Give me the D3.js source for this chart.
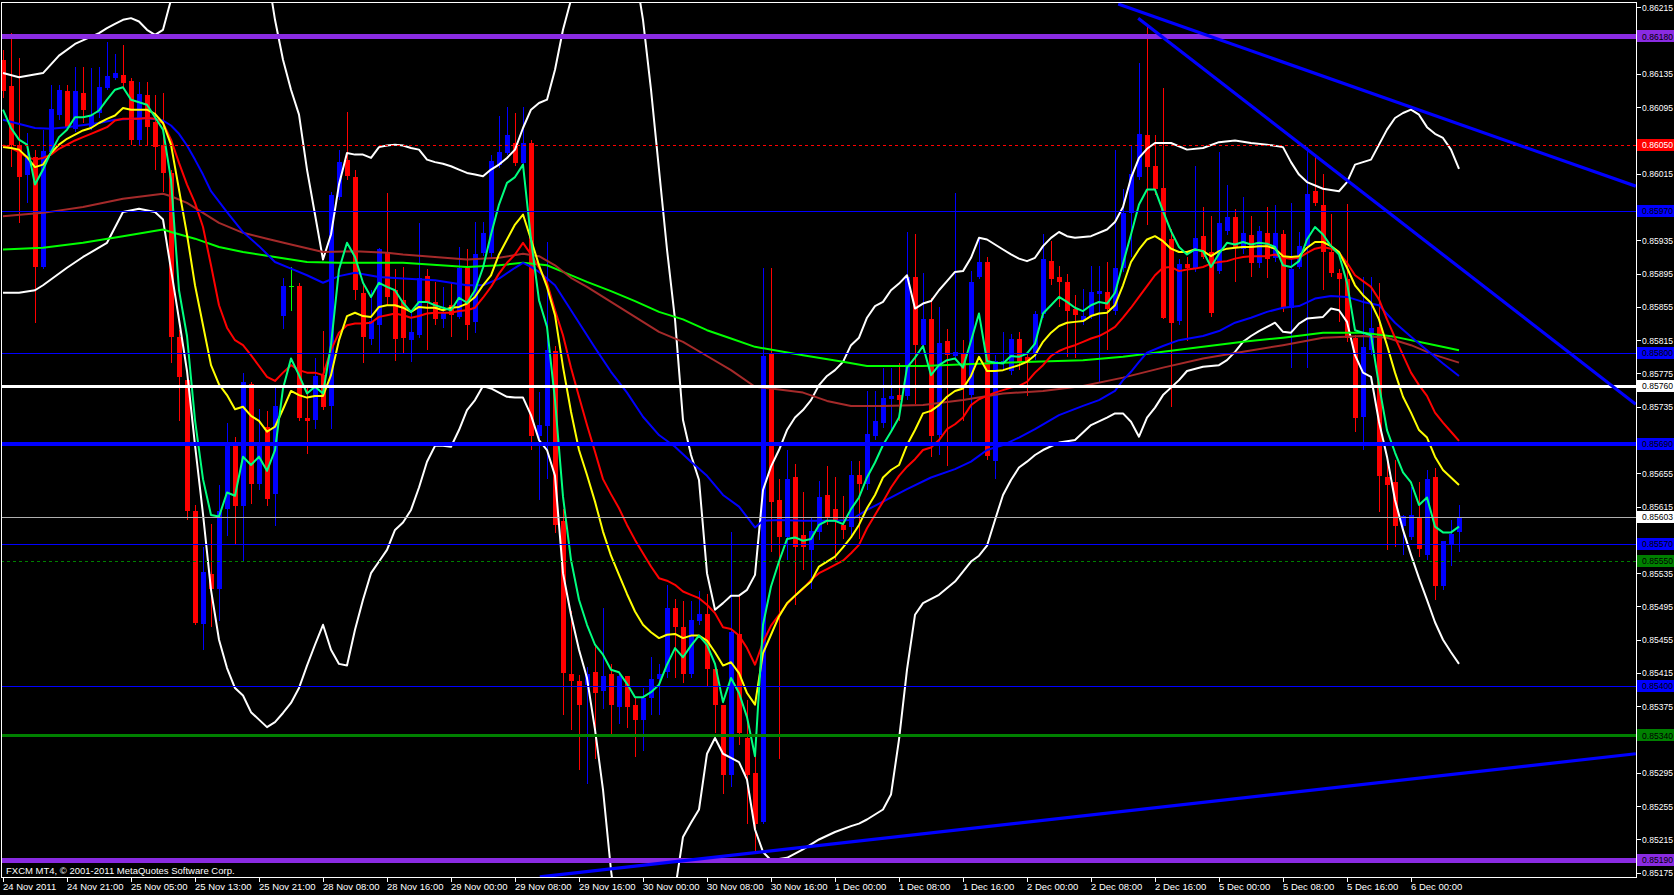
<!DOCTYPE html>
<html><head><meta charset="utf-8">
<script src="https://cdn.jsdelivr.net/npm/d3@7"></script>
<style>html,body{margin:0;padding:0;background:#000;overflow:hidden}svg{display:block}</style>
</head><body>
<svg id="chart" width="1674" height="895"></svg>
<script>
// ---------------- DATA ----------------
const timeLabels = ["24 Nov 2011","24 Nov 21:00","25 Nov 05:00","25 Nov 13:00","25 Nov 21:00","28 Nov 08:00","28 Nov 16:00","29 Nov 00:00","29 Nov 08:00","29 Nov 16:00","30 Nov 00:00","30 Nov 08:00","30 Nov 16:00","1 Dec 00:00","1 Dec 08:00","1 Dec 16:00","2 Dec 00:00","2 Dec 08:00","2 Dec 16:00","5 Dec 00:00","5 Dec 08:00","5 Dec 16:00","6 Dec 00:00"];
const timeLabelBars = [0,8,16,24,32,40,48,56,64,72,80,88,96,104,112,120,128,136,144,152,160,168,176];
const priceTicks = [0.85175,0.85215,0.85255,0.85295,0.85335,0.85375,0.85415,0.85455,0.85495,0.85535,0.85575,0.85615,0.85655,0.85695,0.85735,0.85775,0.85815,0.85855,0.85895,0.85935,0.85975,0.86015,0.86055,0.86095,0.86135,0.86175,0.86215];

const open = [0.86152,0.86120,0.86050,0.86014,0.86035,0.85903,0.86041,0.86086,0.86115,0.86069,0.86112,0.86071,0.86088,0.86118,0.86130,0.86134,0.86127,0.86055,0.86110,0.86077,0.86050,0.86016,0.85819,0.85767,0.85610,0.85474,0.85534,0.85516,0.85612,0.85688,0.85616,0.85762,0.85642,0.85711,0.85630,0.85844,0.85880,0.85880,0.85722,0.85719,0.85773,0.85736,0.85987,0.86032,0.86011,0.85872,0.85817,0.85833,0.85921,0.85875,0.85863,0.85815,0.85821,0.85892,0.85861,0.85840,0.85857,0.85843,0.85902,0.85837,0.85920,0.85920,0.86026,0.86040,0.86052,0.86028,0.86052,0.85700,0.85712,0.85802,0.85598,0.85414,0.85406,0.85401,0.85416,0.85394,0.85414,0.85374,0.85412,0.85377,0.85358,0.85385,0.85408,0.85416,0.85493,0.85470,0.85414,0.85478,0.85486,0.85420,0.85377,0.85293,0.85462,0.85337,0.85295,0.85236,0.85800,0.85623,0.85578,0.85650,0.85581,0.85563,0.85585,0.85629,0.85612,0.85593,0.85591,0.85653,0.85642,0.85700,0.85716,0.85744,0.85749,0.85748,0.85891,0.85809,0.85841,0.85701,0.85814,0.85796,0.85799,0.85749,0.85891,0.85909,0.85670,0.85787,0.85778,0.85817,0.85795,0.85799,0.85847,0.85910,0.85891,0.85885,0.85853,0.85838,0.85844,0.85871,0.85873,0.85850,0.85902,0.85968,0.86011,0.86061,0.86024,0.85998,0.85937,0.85838,0.85907,0.85902,0.85940,0.85921,0.85898,0.85946,0.85963,0.85924,0.85942,0.85908,0.85944,0.85914,0.85943,0.85854,0.85903,0.85928,0.85994,0.85978,0.85921,0.85896,0.85888,0.85818,0.85723,0.85803,0.85831,0.85650,0.85644,0.85592,0.85579,0.85603,0.85557,0.85650,0.85520,0.85570,0.85584];
const high = [0.86164,0.86184,0.86154,0.86064,0.86044,0.86068,0.86122,0.86122,0.86122,0.86143,0.86143,0.86142,0.86143,0.86173,0.86159,0.86170,0.86130,0.86125,0.86125,0.86110,0.86112,0.86020,0.85827,0.85777,0.85617,0.85566,0.85594,0.85641,0.85716,0.85699,0.85776,0.85765,0.85732,0.85730,0.85759,0.85890,0.85903,0.85884,0.85760,0.85793,0.85826,0.85993,0.86044,0.86089,0.86020,0.85881,0.85875,0.85926,0.85992,0.85900,0.85903,0.85848,0.85956,0.85900,0.85885,0.85879,0.85885,0.85927,0.85925,0.85957,0.85957,0.86038,0.86085,0.86095,0.86088,0.86095,0.86056,0.85753,0.85933,0.85808,0.85612,0.85490,0.85413,0.85422,0.85449,0.85493,0.85426,0.85416,0.85412,0.85385,0.85397,0.85434,0.85426,0.85521,0.85504,0.85502,0.85502,0.85514,0.85510,0.85420,0.85377,0.85585,0.85508,0.85383,0.85335,0.85902,0.85902,0.85648,0.85683,0.85666,0.85632,0.85602,0.85646,0.85664,0.85650,0.85628,0.85670,0.85670,0.85754,0.85754,0.85782,0.85782,0.85787,0.85945,0.85943,0.85896,0.85866,0.85855,0.85829,0.85992,0.85815,0.85898,0.85938,0.85915,0.85797,0.85825,0.85823,0.85825,0.85801,0.85850,0.85943,0.85934,0.85904,0.85894,0.85869,0.85877,0.85904,0.85904,0.85909,0.86044,0.85997,0.86048,0.86148,0.86194,0.86061,0.86118,0.85949,0.85912,0.85915,0.86024,0.85975,0.85964,0.86041,0.86002,0.85973,0.85987,0.85964,0.85952,0.85975,0.85978,0.85948,0.85980,0.85945,0.86047,0.86035,0.86015,0.85967,0.85900,0.85979,0.85821,0.85891,0.85891,0.85884,0.85671,0.85671,0.85605,0.85639,0.85644,0.85659,0.85662,0.85574,0.85599,0.85617];
const low = [0.86106,0.86023,0.85956,0.85980,0.85836,0.85900,0.86038,0.86080,0.86068,0.86065,0.86076,0.86068,0.86082,0.86116,0.86128,0.86118,0.86050,0.86050,0.86050,0.86020,0.85993,0.85787,0.85718,0.85599,0.85473,0.85443,0.85470,0.85478,0.85580,0.85569,0.85550,0.85618,0.85635,0.85616,0.85592,0.85829,0.85850,0.85718,0.85678,0.85708,0.85731,0.85708,0.85984,0.86008,0.85863,0.85787,0.85809,0.85799,0.85857,0.85790,0.85800,0.85789,0.85818,0.85803,0.85833,0.85830,0.85819,0.85840,0.85815,0.85824,0.85916,0.85914,0.86022,0.86038,0.86024,0.86024,0.85683,0.85623,0.85648,0.85583,0.85364,0.85346,0.85299,0.85282,0.85312,0.85372,0.85341,0.85354,0.85349,0.85314,0.85321,0.85364,0.85364,0.85409,0.85409,0.85403,0.85409,0.85473,0.85400,0.85343,0.85270,0.85278,0.85329,0.85233,0.85201,0.85234,0.85561,0.85312,0.85551,0.85497,0.85539,0.85516,0.85575,0.85593,0.85551,0.85576,0.85581,0.85576,0.85635,0.85695,0.85710,0.85707,0.85718,0.85743,0.85738,0.85803,0.85675,0.85677,0.85664,0.85791,0.85718,0.85689,0.85888,0.85671,0.85648,0.85779,0.85773,0.85779,0.85748,0.85791,0.85842,0.85881,0.85855,0.85795,0.85793,0.85833,0.85840,0.85765,0.85803,0.85845,0.85897,0.85915,0.86008,0.85954,0.85990,0.85840,0.85735,0.85833,0.85814,0.85897,0.85912,0.85843,0.85894,0.85942,0.85885,0.85918,0.85891,0.85902,0.85890,0.85909,0.85849,0.85782,0.85900,0.85782,0.85976,0.85875,0.85891,0.85837,0.85813,0.85705,0.85683,0.85797,0.85609,0.85563,0.85567,0.85557,0.85575,0.85554,0.85551,0.85503,0.85515,0.85544,0.85561];
const close = [0.86114,0.86050,0.86011,0.86035,0.85903,0.86042,0.86093,0.86116,0.86071,0.86115,0.86092,0.86086,0.86119,0.86133,0.86136,0.86124,0.86056,0.86111,0.86071,0.86047,0.86016,0.85819,0.85771,0.85610,0.85475,0.85537,0.85516,0.85610,0.85688,0.85616,0.85765,0.85642,0.85693,0.85624,0.85736,0.85880,0.85880,0.85722,0.85718,0.85772,0.85735,0.85990,0.86029,0.86012,0.85875,0.85819,0.85838,0.85924,0.85867,0.85817,0.85818,0.85825,0.85890,0.85861,0.85840,0.85848,0.85845,0.85902,0.85833,0.85918,0.85944,0.86030,0.86041,0.86061,0.86028,0.86052,0.85700,0.85713,0.85803,0.85593,0.85415,0.85406,0.85377,0.85414,0.85391,0.85412,0.85377,0.85412,0.85374,0.85358,0.85385,0.85408,0.85414,0.85493,0.85470,0.85414,0.85479,0.85486,0.85420,0.85377,0.85293,0.85464,0.85343,0.85293,0.85234,0.85796,0.85620,0.85578,0.85648,0.85567,0.85567,0.85586,0.85627,0.85602,0.85599,0.85587,0.85653,0.85642,0.85702,0.85718,0.85746,0.85748,0.85743,0.85891,0.85809,0.85840,0.85700,0.85812,0.85797,0.85801,0.85757,0.85885,0.85909,0.85676,0.85790,0.85790,0.85817,0.85788,0.85787,0.85847,0.85912,0.85888,0.85885,0.85850,0.85845,0.85844,0.85873,0.85874,0.85853,0.85902,0.85968,0.86015,0.86063,0.86023,0.85997,0.85842,0.85836,0.85907,0.85902,0.85938,0.85915,0.85848,0.85956,0.85963,0.85926,0.85944,0.85908,0.85946,0.85912,0.85944,0.85854,0.85900,0.85928,0.85991,0.85980,0.85921,0.85896,0.85888,0.85818,0.85722,0.85807,0.85830,0.85652,0.85641,0.85592,0.85604,0.85605,0.85564,0.85648,0.85520,0.85574,0.85582,0.85603];

// fast moving average (spring green), one value per bar
const maFast = [0.86092,0.86070,0.86056,0.86050,0.86002,0.86020,0.86041,0.86059,0.86068,0.86083,0.86083,0.86085,0.86091,0.86104,0.86116,0.86119,0.86104,0.86101,0.86098,0.86083,0.86068,0.86008,0.85875,0.85820,0.85719,0.85648,0.85605,0.85603,0.85632,0.85628,0.85675,0.85665,0.85675,0.85658,0.85683,0.85757,0.85793,0.85773,0.85751,0.85759,0.85751,0.85809,0.85900,0.85932,0.85915,0.85884,0.85867,0.85884,0.85879,0.85875,0.85860,0.85849,0.85861,0.85861,0.85857,0.85854,0.85851,0.85866,0.85860,0.85875,0.85902,0.85942,0.85978,0.86004,0.86011,0.86026,0.85936,0.85863,0.85831,0.85743,0.85627,0.85551,0.85503,0.85473,0.85449,0.85437,0.85419,0.85416,0.85402,0.85386,0.85386,0.85392,0.85401,0.85425,0.85445,0.85434,0.85448,0.85460,0.85449,0.85426,0.85380,0.85409,0.85391,0.85362,0.85315,0.85473,0.85519,0.85549,0.85576,0.85578,0.85574,0.85576,0.85593,0.85598,0.85598,0.85594,0.85612,0.85626,0.85650,0.85668,0.85689,0.85705,0.85722,0.85782,0.85794,0.85808,0.85773,0.85785,0.85791,0.85793,0.85782,0.85814,0.85847,0.85790,0.85788,0.85787,0.85796,0.85795,0.85799,0.85811,0.85847,0.85857,0.85867,0.85861,0.85854,0.85850,0.85857,0.85861,0.85859,0.85872,0.85907,0.85942,0.85978,0.85996,0.85996,0.85970,0.85946,0.85927,0.85918,0.85924,0.85922,0.85903,0.85919,0.85932,0.85930,0.85933,0.85930,0.85932,0.85931,0.85927,0.85905,0.85903,0.85910,0.85936,0.85951,0.85942,0.85928,0.85918,0.85884,0.85827,0.85824,0.85821,0.85761,0.85707,0.85680,0.85656,0.85644,0.85617,0.85626,0.85591,0.85584,0.85584,0.85591];
// yellow moving average, one value per bar
const maYellow = [0.86047,0.86046,0.86044,0.86035,0.86023,0.86026,0.86040,0.86050,0.86057,0.86062,0.86067,0.86070,0.86076,0.86081,0.86085,0.86094,0.86092,0.86092,0.86092,0.86087,0.86076,0.86050,0.85996,0.85942,0.85881,0.85833,0.85785,0.85762,0.85749,0.85732,0.85735,0.85724,0.85718,0.85705,0.85711,0.85732,0.85754,0.85749,0.85746,0.85748,0.85748,0.85773,0.85815,0.85844,0.85848,0.85844,0.85843,0.85855,0.85857,0.85857,0.85854,0.85849,0.85855,0.85854,0.85854,0.85851,0.85854,0.85855,0.85859,0.85867,0.85881,0.85893,0.85918,0.85936,0.85954,0.85966,0.85936,0.85905,0.85879,0.85845,0.85783,0.85729,0.85683,0.85653,0.85621,0.85585,0.85556,0.85533,0.85510,0.85489,0.85473,0.85464,0.85457,0.85461,0.85462,0.85457,0.85460,0.85460,0.85454,0.85440,0.85424,0.85428,0.85415,0.85391,0.85377,0.85439,0.85461,0.85483,0.85499,0.85508,0.85517,0.85525,0.85543,0.85549,0.85555,0.85566,0.85578,0.85593,0.85613,0.85629,0.85650,0.85659,0.85665,0.85689,0.85707,0.85727,0.85730,0.85737,0.85747,0.85754,0.85757,0.85772,0.85795,0.85778,0.85778,0.85779,0.85782,0.85785,0.85789,0.85797,0.85813,0.85824,0.85832,0.85836,0.85837,0.85838,0.85844,0.85847,0.85848,0.85857,0.85881,0.85909,0.85924,0.85936,0.85940,0.85934,0.85925,0.85921,0.85921,0.85924,0.85922,0.85916,0.85922,0.85925,0.85926,0.85927,0.85927,0.85928,0.85928,0.85925,0.85916,0.85915,0.85916,0.85926,0.85933,0.85933,0.85928,0.85921,0.85902,0.85881,0.85869,0.85860,0.85840,0.85809,0.85776,0.85747,0.85728,0.85707,0.85698,0.85675,0.85659,0.85650,0.85641];
// red moving average, one value per bar
const maRed = [0.86049,0.86046,0.86041,0.86035,0.86032,0.86034,0.86038,0.86045,0.86050,0.86055,0.86059,0.86063,0.86067,0.86071,0.86079,0.86081,0.86081,0.86081,0.86082,0.86081,0.86076,0.86056,0.86028,0.86002,0.85980,0.85951,0.85905,0.85857,0.85830,0.85815,0.85809,0.85797,0.85784,0.85771,0.85766,0.85776,0.85785,0.85779,0.85776,0.85776,0.85773,0.85803,0.85824,0.85833,0.85835,0.85835,0.85836,0.85843,0.85845,0.85847,0.85845,0.85842,0.85844,0.85847,0.85848,0.85848,0.85848,0.85850,0.85851,0.85854,0.85866,0.85879,0.85895,0.85908,0.85918,0.85932,0.85918,0.85902,0.85884,0.85851,0.85821,0.85782,0.85747,0.85713,0.85681,0.85648,0.85630,0.85613,0.85593,0.85575,0.85559,0.85543,0.85529,0.85526,0.85521,0.85513,0.85509,0.85505,0.85497,0.85487,0.85470,0.85468,0.85460,0.85445,0.85425,0.85452,0.85472,0.85485,0.85498,0.85508,0.85516,0.85527,0.85535,0.85540,0.85545,0.85550,0.85559,0.85569,0.85589,0.85605,0.85621,0.85638,0.85652,0.85663,0.85672,0.85683,0.85686,0.85695,0.85708,0.85714,0.85722,0.85737,0.85744,0.85748,0.85752,0.85755,0.85758,0.85760,0.85765,0.85776,0.85785,0.85796,0.85802,0.85806,0.85809,0.85813,0.85817,0.85820,0.85825,0.85831,0.85842,0.85854,0.85867,0.85880,0.85893,0.85902,0.85903,0.85898,0.85900,0.85901,0.85903,0.85907,0.85909,0.85910,0.85913,0.85915,0.85916,0.85916,0.85916,0.85918,0.85914,0.85913,0.85914,0.85920,0.85925,0.85927,0.85925,0.85920,0.85908,0.85893,0.85886,0.85879,0.85864,0.85840,0.85818,0.85797,0.85776,0.85761,0.85748,0.85728,0.85716,0.85705,0.85694];
// slower averages, [bar, price] read at the turning points
const maBlue = [[0,0.86080],[4,0.86070],[6,0.86069],[8,0.86071],[12,0.86076],[14,0.86080],[18,0.86082],[20,0.86079],[21,0.86073],[22,0.86063],[23,0.86049],[24,0.86032],[25,0.86014],[26,0.85994],[28,0.85969],[30,0.85945],[32,0.85928],[34,0.85909],[36,0.85901],[38,0.85893],[40,0.85884],[42,0.85892],[44,0.85896],[47,0.85891],[50,0.85889],[54,0.85887],[58,0.85881],[60,0.85881],[62,0.85889],[64,0.85902],[65,0.85908],[66,0.85903],[67,0.85897],[68,0.85889],[69,0.85881],[70,0.85866],[72,0.85836],[74,0.85806],[76,0.85777],[78,0.85752],[80,0.85723],[82,0.85701],[84,0.85687],[86,0.85669],[88,0.85652],[90,0.85629],[92,0.85615],[94,0.85590],[95,0.85598],[97,0.85599],[100,0.85598],[104,0.85598],[106,0.85599],[108,0.85611],[110,0.85621],[113,0.85636],[116,0.85650],[119,0.85660],[121,0.85669],[123,0.85683],[125,0.85689],[127,0.85698],[129,0.85708],[132,0.85725],[135,0.85736],[137,0.85743],[139,0.85754],[140,0.85767],[141,0.85777],[142,0.85789],[143,0.85800],[145,0.85808],[147,0.85815],[150,0.85820],[152,0.85826],[154,0.85836],[156,0.85842],[158,0.85849],[160,0.85854],[162,0.85856],[164,0.85865],[166,0.85868],[168,0.85867],[170,0.85861],[172,0.85857],[174,0.85836],[176,0.85819],[178,0.85803],[180,0.85787],[182,0.85772]];
const maBrown = [[0,0.85964],[5,0.85968],[10,0.85975],[15,0.85985],[20,0.85991],[21,0.85988],[23,0.85980],[25,0.85968],[27,0.85956],[30,0.85944],[33,0.85937],[36,0.85930],[40,0.85921],[44,0.85922],[48,0.85920],[50,0.85918],[54,0.85915],[58,0.85912],[62,0.85914],[65,0.85919],[67,0.85916],[69,0.85905],[71,0.85890],[73,0.85879],[76,0.85861],[79,0.85843],[82,0.85825],[85,0.85813],[88,0.85796],[91,0.85779],[94,0.85759],[96,0.85757],[100,0.85752],[103,0.85742],[106,0.85736],[110,0.85736],[115,0.85737],[120,0.85743],[125,0.85751],[130,0.85754],[135,0.85760],[140,0.85770],[145,0.85782],[150,0.85793],[155,0.85801],[160,0.85809],[165,0.85818],[170,0.85820],[173,0.85818],[176,0.85809],[179,0.85797],[182,0.85788]];
const maGreen = [[0,0.85924],[5,0.85926],[10,0.85932],[15,0.85940],[20,0.85948],[21,0.85945],[24,0.85937],[27,0.85927],[30,0.85921],[34,0.85915],[38,0.85909],[42,0.85908],[50,0.85908],[58,0.85903],[62,0.85905],[65,0.85908],[68,0.85905],[70,0.85897],[73,0.85885],[76,0.85874],[79,0.85862],[82,0.85849],[85,0.85840],[88,0.85827],[91,0.85817],[94,0.85807],[97,0.85802],[100,0.85797],[105,0.85789],[108,0.85784],[115,0.85784],[125,0.85788],[135,0.85791],[140,0.85795],[145,0.85801],[150,0.85807],[155,0.85813],[160,0.85818],[165,0.85824],[170,0.85824],[174,0.85819],[178,0.85811],[182,0.85803]];
// Bollinger bands (white), [bar, price]
const bandUpper = [[0,0.86136],[2,0.86131],[5,0.86136],[7,0.86157],[9,0.86171],[12,0.86184],[13,0.86190],[14,0.86195],[15,0.86200],[16,0.86202],[17,0.86198],[18,0.86188],[19,0.86182],[20,0.86188],[21,0.86224],[22,0.86260],[24,0.86356],[26,0.86416],[28,0.86428],[30,0.86392],[32,0.86320],[33,0.86260],[34,0.86200],[35,0.86152],[36,0.86116],[37,0.86086],[38,0.86020],[39,0.85966],[40,0.85912],[41,0.85942],[42,0.86002],[43,0.86040],[44,0.86038],[45,0.86038],[46,0.86034],[47,0.86047],[48,0.86049],[49,0.86050],[50,0.86049],[51,0.86046],[52,0.86044],[53,0.86032],[54,0.86029],[55,0.86027],[56,0.86024],[57,0.86020],[58,0.86016],[59,0.86014],[60,0.86012],[61,0.86020],[62,0.86026],[63,0.86034],[64,0.86044],[65,0.86070],[66,0.86092],[67,0.86100],[68,0.86104],[69,0.86140],[70,0.86188],[71,0.86224],[72,0.86272],[74,0.86344],[76,0.86368],[78,0.86320],[79,0.86260],[80,0.86200],[81,0.86116],[82,0.86020],[83,0.85924],[84,0.85840],[85,0.85719],[86,0.85677],[87,0.85647],[88,0.85535],[89,0.85491],[90,0.85499],[91,0.85508],[92,0.85508],[93,0.85515],[94,0.85533],[95,0.85635],[96,0.85663],[97,0.85683],[98,0.85707],[99,0.85722],[100,0.85731],[101,0.85743],[102,0.85761],[103,0.85772],[104,0.85779],[105,0.85789],[106,0.85809],[107,0.85818],[108,0.85842],[109,0.85856],[110,0.85861],[111,0.85875],[112,0.85883],[113,0.85893],[114,0.85853],[115,0.85859],[116,0.85862],[117,0.85875],[118,0.85886],[119,0.85897],[120,0.85898],[121,0.85914],[122,0.85938],[123,0.85936],[124,0.85930],[125,0.85924],[126,0.85918],[127,0.85913],[128,0.85910],[129,0.85914],[130,0.85928],[131,0.85938],[132,0.85945],[133,0.85940],[134,0.85938],[136,0.85940],[138,0.85948],[139,0.85957],[140,0.85975],[141,0.86010],[142,0.86034],[143,0.86045],[144,0.86052],[146,0.86052],[148,0.86044],[150,0.86046],[152,0.86053],[154,0.86055],[156,0.86052],[158,0.86050],[160,0.86047],[161,0.86029],[162,0.86014],[163,0.86005],[165,0.85997],[167,0.85994],[168,0.86005],[169,0.86026],[170,0.86029],[171,0.86032],[172,0.86050],[173,0.86068],[174,0.86082],[175,0.86088],[176,0.86092],[177,0.86086],[178,0.86071],[179,0.86063],[180,0.86058],[181,0.86044],[182,0.86021]];
const bandLower = [[0,0.85872],[2,0.85872],[4,0.85875],[5,0.85881],[8,0.85902],[10,0.85915],[13,0.85932],[15,0.85969],[17,0.85973],[19,0.85969],[20,0.85960],[21,0.85900],[22,0.85840],[23,0.85778],[24,0.85689],[25,0.85606],[26,0.85515],[27,0.85455],[28,0.85421],[29,0.85397],[30,0.85388],[31,0.85368],[32,0.85359],[33,0.85350],[34,0.85356],[35,0.85367],[36,0.85379],[37,0.85397],[38,0.85424],[39,0.85449],[40,0.85473],[41,0.85443],[42,0.85426],[43,0.85424],[44,0.85467],[45,0.85503],[46,0.85535],[47,0.85549],[48,0.85563],[49,0.85587],[50,0.85596],[51,0.85611],[52,0.85638],[53,0.85669],[54,0.85688],[55,0.85688],[56,0.85687],[57,0.85707],[58,0.85731],[59,0.85743],[60,0.85760],[61,0.85757],[62,0.85752],[63,0.85747],[64,0.85746],[65,0.85746],[66,0.85725],[67,0.85695],[68,0.85683],[69,0.85652],[70,0.85535],[71,0.85485],[72,0.85443],[73,0.85409],[74,0.85347],[75,0.85275],[76,0.85178],[77,0.85106],[78,0.85046],[79,0.85022],[80,0.85034],[81,0.85070],[82,0.85106],[83,0.85142],[84,0.85154],[85,0.85218],[86,0.85235],[87,0.85251],[88,0.85318],[89,0.85337],[90,0.85318],[91,0.85313],[92,0.85308],[93,0.85287],[94,0.85227],[95,0.85200],[96,0.85190],[98,0.85193],[100,0.85203],[102,0.85215],[104,0.85224],[106,0.85231],[107,0.85234],[108,0.85239],[109,0.85245],[110,0.85251],[111,0.85269],[112,0.85335],[113,0.85419],[114,0.85485],[115,0.85499],[117,0.85509],[119,0.85525],[121,0.85549],[122,0.85556],[123,0.85568],[124,0.85599],[125,0.85629],[126,0.85647],[127,0.85662],[128,0.85669],[129,0.85677],[130,0.85683],[132,0.85692],[134,0.85695],[136,0.85713],[138,0.85722],[139,0.85727],[140,0.85727],[141,0.85717],[142,0.85699],[143,0.85722],[144,0.85734],[145,0.85749],[146,0.85758],[147,0.85767],[148,0.85778],[150,0.85783],[152,0.85785],[153,0.85791],[154,0.85801],[155,0.85813],[156,0.85820],[157,0.85826],[158,0.85831],[159,0.85836],[160,0.85825],[161,0.85824],[162,0.85835],[163,0.85841],[164,0.85842],[165,0.85843],[166,0.85853],[167,0.85851],[168,0.85837],[169,0.85797],[170,0.85776],[171,0.85771],[172,0.85717],[173,0.85675],[174,0.85623],[175,0.85587],[176,0.85557],[177,0.85529],[178,0.85503],[179,0.85476],[180,0.85455],[181,0.85440],[182,0.85426]];

// horizontal price levels (their label texts are the prices)
const levelPrices = [0.86180,0.86050,0.85970,0.85800,0.85760,0.85690,0.85603,0.85570,0.85550,0.85400,0.85340,0.85190];
// trend lines: [[bar, price],[bar, price]]
const trendLines = [[[139.4,0.86219],[204.1,0.86000]],[[141.9,0.86202],[204.1,0.85738]],[[67.1,0.85170],[204.1,0.85318]]];

// ---------------- STYLES ----------------
const levelStyles = [
  {stroke:"#8A2BE2",w:5,dash:null,box:"#8A2BE2",txt:"#000"},
  {stroke:"#FF0000",w:1,dash:"3,3",box:"#FF0000",txt:"#fff"},
  {stroke:"#0000FF",w:1,dash:null,box:"#0000FF",txt:"#000"},
  {stroke:"#0000FF",w:1,dash:null,box:"#0000FF",txt:"#000"},
  {stroke:"#FFFFFF",w:3,dash:null,box:"#FFFFFF",txt:"#000"},
  {stroke:"#0000FF",w:4,dash:null,box:"#0000FF",txt:"#000"},
  {stroke:"#B0B0B0",w:1,dash:null,box:"#FFFFFF",txt:"#000"},
  {stroke:"#0000FF",w:1,dash:null,box:"#0000FF",txt:"#000"},
  {stroke:"#008000",w:1,dash:"3,3",box:"#008000",txt:"#000"},
  {stroke:"#0000FF",w:1,dash:null,box:"#0000FF",txt:"#000"},
  {stroke:"#008000",w:3,dash:null,box:"#008000",txt:"#000"},
  {stroke:"#8A2BE2",w:5,dash:null,box:"#8A2BE2",txt:"#000"}
];
const FONT = "'Liberation Sans', Arial, sans-serif";

// ---------------- CHART ----------------
const svg = d3.select("#chart");
const PL = 1, PT = 2, PR = 1636, PB = 877;
svg.append("rect").attr("width",1674).attr("height",895).attr("fill","#000");

const x = d3.scaleLinear().domain([0, 182]).range([3, 1459]);
const y = d3.scaleLinear().domain([0.851699, 0.862214]).range([PB, PT]);

svg.append("defs").append("clipPath").attr("id","plot")
  .append("rect").attr("x",PL).attr("y",PT).attr("width",PR-PL).attr("height",PB-PT);

const plot = svg.append("g").attr("clip-path","url(#plot)");

// candles
const bars = open.map((o,i)=>({i, o, h:high[i], l:low[i], c:close[i]}));
const colorOf = d => d.c > d.o ? "#0000FF" : (d.c < d.o ? "#FF0000" : "#00FF00");
const cg = plot.append("g").attr("shape-rendering","crispEdges");
cg.selectAll("line.wick").data(bars).join("line").attr("class","wick")
  .attr("x1", d=>Math.round(x(d.i))+0.5).attr("x2", d=>Math.round(x(d.i))+0.5)
  .attr("y1", d=>y(d.h)).attr("y2", d=>y(d.l))
  .attr("stroke", colorOf).attr("stroke-width",1);
cg.selectAll("rect.body").data(bars).join("rect").attr("class","body")
  .attr("x", d=>Math.round(x(d.i))-2).attr("width",5)
  .attr("y", d=>y(Math.max(d.o,d.c)))
  .attr("height", d=>Math.max(1, Math.abs(y(d.o)-y(d.c))))
  .attr("fill", colorOf);

// indicator lines
const lineIdx = d3.line().x((d,i)=>x(i)).y(d=>y(d));
const linePair = d3.line().x(d=>x(d[0])).y(d=>y(d[1]));
const ind = plot.append("g").attr("fill","none").attr("stroke-linejoin","round");
ind.append("path").attr("d", linePair(bandUpper)).attr("stroke","#FFFFFF").attr("stroke-width",2);
ind.append("path").attr("d", linePair(bandLower)).attr("stroke","#FFFFFF").attr("stroke-width",2);
ind.append("path").attr("d", linePair(maGreen)).attr("stroke","#00FF00").attr("stroke-width",2);
ind.append("path").attr("d", linePair(maBrown)).attr("stroke","#A52A2A").attr("stroke-width",2);
ind.append("path").attr("d", linePair(maBlue)).attr("stroke","#0000FF").attr("stroke-width",2);
ind.append("path").attr("d", lineIdx(maRed)).attr("stroke","#FF0000").attr("stroke-width",2);
ind.append("path").attr("d", lineIdx(maYellow)).attr("stroke","#FFFF00").attr("stroke-width",2);
ind.append("path").attr("d", lineIdx(maFast)).attr("stroke","#00FF7F").attr("stroke-width",2);

// horizontal levels
const lv = plot.append("g").attr("shape-rendering","crispEdges");
levelPrices.forEach((p,k)=>{
  const s = levelStyles[k];
  const yy = Math.round(y(p)) + (s.w % 2 ? 0.5 : 0);
  const ln = lv.append("line").attr("x1",PL).attr("x2",PR).attr("y1",yy).attr("y2",yy)
    .attr("stroke",s.stroke).attr("stroke-width",s.w);
  if (s.dash) ln.attr("stroke-dasharray",s.dash);
});
// trend lines
const tl = plot.append("g");
trendLines.forEach(t=>{
  tl.append("path").attr("d", linePair(t)).attr("stroke","#0000FF").attr("stroke-width",3.2).attr("fill","none");
});

// frame
svg.append("rect").attr("x",PL+0.5).attr("y",PT+0.5).attr("width",PR-PL).attr("height",PB-PT)
  .attr("fill","none").attr("stroke","#FFFFFF").attr("stroke-width",1).attr("shape-rendering","crispEdges");

// price axis (right); tick labels that sit under a level label box are hidden like in MT4
const hidden = v => levelPrices.some(p => Math.abs(y(p) - y(v)) < 9.5);
const ya = svg.append("g").attr("transform",`translate(${PR+0.5},0)`)
  .call(d3.axisRight(y).tickValues(priceTicks).tickFormat(d3.format(".5f")).tickSize(4).tickPadding(2));
ya.select(".domain").remove();
ya.selectAll("line").attr("stroke","#FFFFFF").attr("shape-rendering","crispEdges");
ya.selectAll("text").attr("fill","#FFFFFF").attr("font-family",FONT).attr("font-size","9px")
  .attr("x",5.5).attr("textLength",31).attr("lengthAdjust","spacingAndGlyphs");
ya.selectAll(".tick").filter(d => hidden(d)).select("text").remove();

// level labels on price axis
const lb = svg.append("g");
levelPrices.forEach((p,k)=>{
  const s = levelStyles[k];
  const yy = y(p);
  lb.append("rect").attr("x",PR+1).attr("y",Math.round(yy)-6).attr("width",1674-PR-1).attr("height",12)
    .attr("fill",s.box).attr("shape-rendering","crispEdges");
  lb.append("text").attr("x",PR+6).attr("y",yy).attr("dy","0.34em").attr("fill",s.txt)
    .attr("font-family",FONT).attr("font-size","9px").attr("textLength",31).attr("lengthAdjust","spacingAndGlyphs")
    .text(d3.format(".5f")(p));
});

// time axis (bottom)
const xa = svg.append("g").attr("transform",`translate(0,${PB+0.5})`)
  .call(d3.axisBottom(x).tickValues(timeLabelBars).tickFormat((d,i)=>timeLabels[i]).tickSize(4).tickPadding(2));
xa.select(".domain").remove();
xa.selectAll("line").attr("stroke","#FFFFFF").attr("shape-rendering","crispEdges");
xa.selectAll("text").attr("fill","#FFFFFF").attr("font-family",FONT).attr("font-size","9.5px")
  .attr("text-anchor","start").attr("dx","-0.5");

// copyright
svg.append("text").attr("x",6).attr("y",874).attr("fill","#FFFFFF").attr("font-family",FONT)
  .attr("font-size","9.5px").text("FXCM MT4, © 2001-2011 MetaQuotes Software Corp.");
</script>
</body></html>
